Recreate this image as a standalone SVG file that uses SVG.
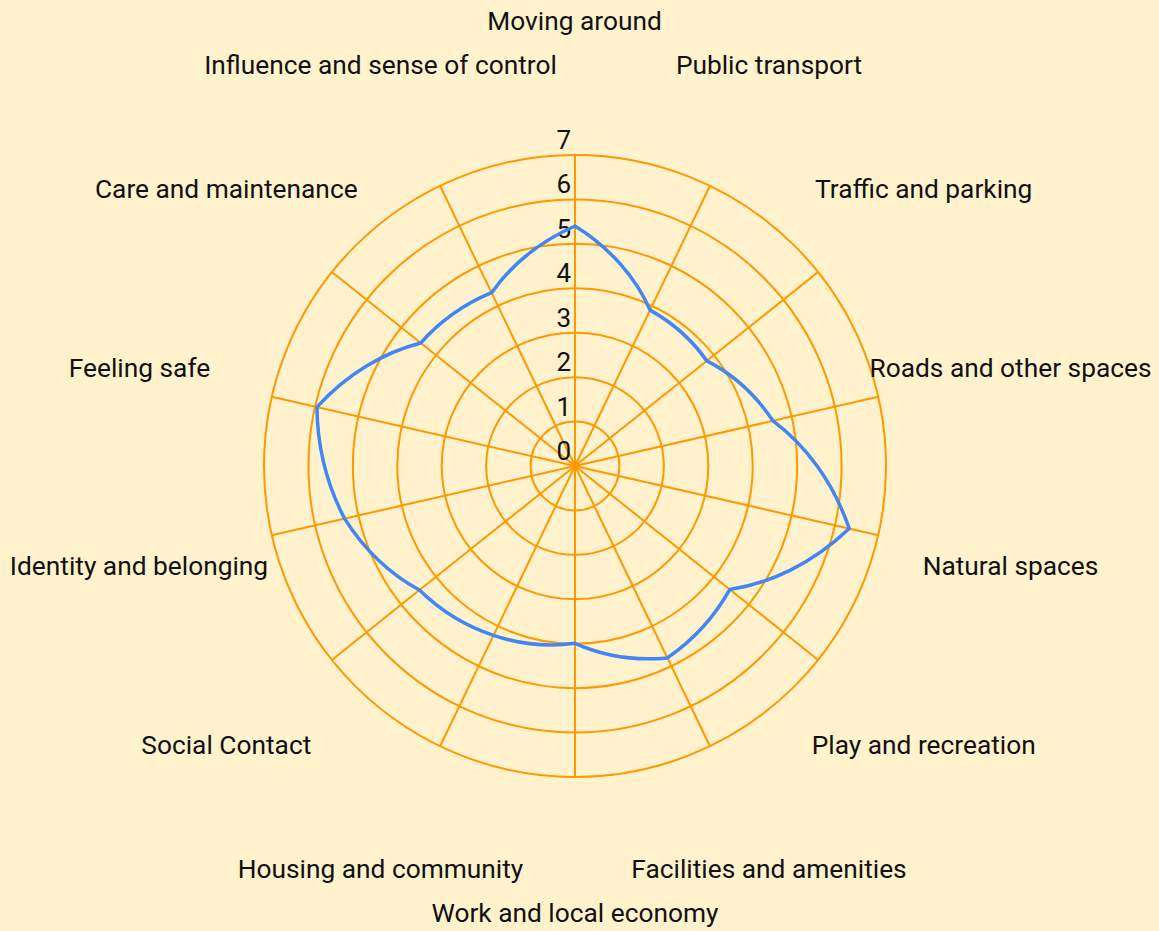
<svg xmlns="http://www.w3.org/2000/svg" width="1159" height="931" viewBox="0 0 1159 931">
<style>
.grid{fill:none;stroke:#ff9900;stroke-width:2}
.lbl{font-family:Roboto,"Liberation Sans",sans-serif;font-size:26.3px;fill:#111;text-anchor:middle}
.tick{font-family:Roboto,"Liberation Sans",sans-serif;font-size:26px;fill:#111;text-anchor:end}
.series{fill:none;stroke:#4285f4;stroke-width:3.5;stroke-linejoin:round}
</style>
<rect x="0" y="0" width="1159" height="931" fill="#fff2cc"/>
<g id="rings" class="grid">
<circle cx="575" cy="466" r="44.43"/>
<circle cx="575" cy="466" r="88.86"/>
<circle cx="575" cy="466" r="133.29"/>
<circle cx="575" cy="466" r="177.71"/>
<circle cx="575" cy="466" r="222.14"/>
<circle cx="575" cy="466" r="266.57"/>
<circle cx="575" cy="466" r="311"/>
</g>
<g id="spokes" class="grid">
<line x1="575" y1="466" x2="575" y2="155"/>
<line x1="575" y1="466" x2="709.94" y2="185.8"/>
<line x1="575" y1="466" x2="818.15" y2="272.09"/>
<line x1="575" y1="466" x2="878.2" y2="396.8"/>
<line x1="575" y1="466" x2="878.2" y2="535.2"/>
<line x1="575" y1="466" x2="818.15" y2="659.91"/>
<line x1="575" y1="466" x2="709.94" y2="746.2"/>
<line x1="575" y1="466" x2="575" y2="777"/>
<line x1="575" y1="466" x2="440.06" y2="746.2"/>
<line x1="575" y1="466" x2="331.85" y2="659.91"/>
<line x1="575" y1="466" x2="271.8" y2="535.2"/>
<line x1="575" y1="466" x2="271.8" y2="396.8"/>
<line x1="575" y1="466" x2="331.85" y2="272.09"/>
<line x1="575" y1="466" x2="440.06" y2="185.8"/>
</g>
<g id="ticks" class="tick">
<text x="571" y="460">0</text>
<text x="571" y="415.6">1</text>
<text x="571" y="371.1">2</text>
<text x="571" y="326.7">3</text>
<text x="571" y="282.3">4</text>
<text x="571" y="237.9">5</text>
<text x="571" y="193.4">6</text>
<text x="571" y="149">7</text>
</g>
<g id="series">
<path class="series" d="M575,226 C610.9,248.33 636.43,278.78 650.06,310.13 C672.74,322.68 692.24,340.25 706.82,360.88 C731.51,373.45 754.97,393.77 772.91,420.83 C805.12,444.63 833.16,481.75 849.25,528.59 C812.82,563.44 769.98,583.6 729.8,589.45 C715.24,615.73 693.96,639.59 667.42,657.91 C633.55,661.01 601.52,655.2 575,643.3 C548.48,646.87 520.31,644.37 493.43,635.38 C466.5,626.48 440.85,611.06 419.42,590.07 C391.14,574.54 364.61,550.27 344.62,518.58 C327.52,486.23 317.36,447.82 316.94,407.1 C347.66,373.49 384.77,352.06 420.75,342.99 C440.46,320.95 464.93,303.72 491.57,292.74 C510.59,265.93 539.1,241.9 575,226 Z"/>
</g>
<g id="labels" class="lbl">
<text id="l-moving" x="574.5" y="20" dy="0.37em">Moving around</text>
<text id="l-public" x="769" y="64.5" dy="0.37em">Public transport</text>
<text id="l-traffic" x="923.7" y="188.3" dy="0.37em">Traffic and parking</text>
<text id="l-roads" x="1010.5" y="367.3" dy="0.37em">Roads and other spaces</text>
<text id="l-natural" x="1010.5" y="565.6" dy="0.37em">Natural spaces</text>
<text id="l-play" x="923.7" y="744.5" dy="0.37em">Play and recreation</text>
<text id="l-facilities" x="769" y="868.2" dy="0.37em">Facilities and amenities</text>
<text id="l-work" x="575" y="912.4" dy="0.37em">Work and local economy</text>
<text id="l-housing" x="380.5" y="868.2" dy="0.37em">Housing and community</text>
<text id="l-social" x="226.3" y="744.5" dy="0.37em">Social Contact</text>
<text id="l-identity" x="139" y="565.6" dy="0.37em">Identity and belonging</text>
<text id="l-safe" x="139.5" y="367.3" dy="0.37em">Feeling safe</text>
<text id="l-care" x="226.3" y="188.3" dy="0.37em">Care and maintenance</text>
<text id="l-influence" x="380.5" y="64.5" dy="0.37em">Influence and sense of control</text>
</g>
</svg>
